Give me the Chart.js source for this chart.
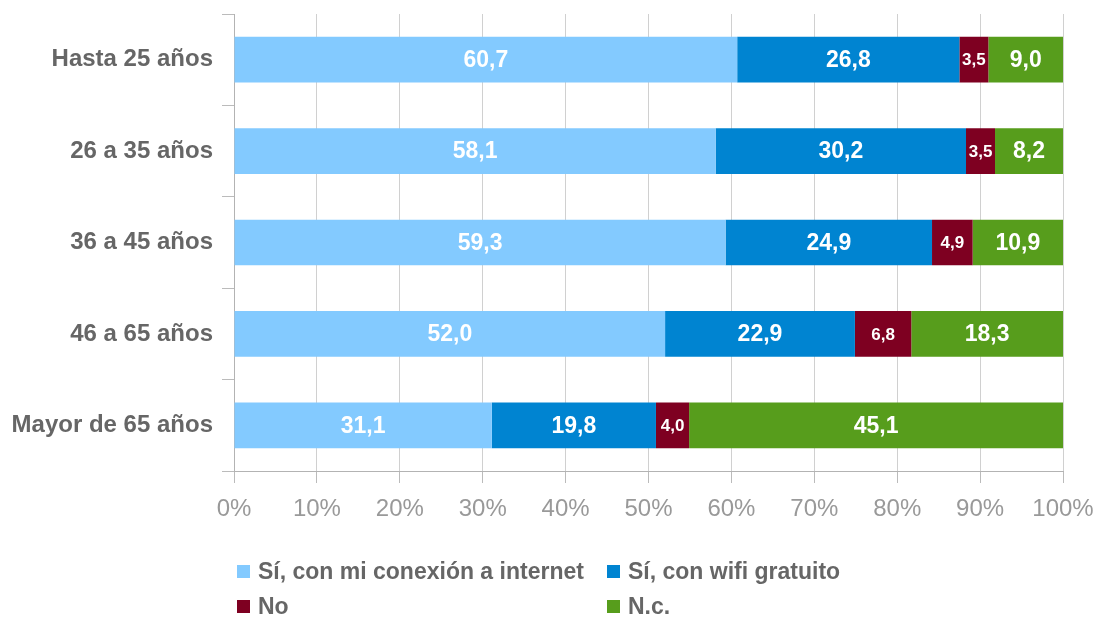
<!DOCTYPE html>
<html>
<head>
<meta charset="utf-8">
<script src="https://cdn.jsdelivr.net/npm/chart.js@4"></script>
<style>
  html, body { margin: 0; padding: 0; background: #fff; }
  #wrap { position: relative; width: 1099px; height: 618px; }
  #legend {
    position: absolute; left: 237px; top: 557px;
    display: grid; grid-template-columns: 370px 300px; row-gap: 7px;
    font-family: "Liberation Sans", Arial, sans-serif; font-weight: bold;
    font-size: 23px; color: #666;
  }
  #legend div { display: flex; align-items: center; height: 28px; white-space: nowrap; }
  #legend span.box { width: 13px; height: 13px; margin-right: 8px; display: inline-block; }
</style>
</head>
<body>
<div id="wrap">
  <canvas id="chart" width="1099" height="618"></canvas>
  <div id="legend"></div>
</div>
<script>
/* Data */
const ageGroups = ["Hasta 25 años", "26 a 35 años", "36 a 45 años", "46 a 65 años", "Mayor de 65 años"];
const seriesNames = ["Sí, con mi conexión a internet", "Sí, con wifi gratuito", "No", "N.c."];
const ownConnection = [60.7, 58.1, 59.3, 52.0, 31.1];
const freeWifi = [26.8, 30.2, 24.9, 22.9, 19.8];
const noValues = [3.5, 3.5, 4.9, 6.8, 4.0];
const ncValues = [9.0, 8.2, 10.9, 18.3, 45.1];
const colors = ["#83caff", "#0084d1", "#7e0021", "#579d1c"];

const seriesValues = [ownConnection, freeWifi, noValues, ncValues];

/* value labels inside the bars */
const barLabels = {
  id: "barLabels",
  afterDatasetsDraw(chart) {
    const ctx = chart.ctx;
    ctx.save();
    ctx.fillStyle = "#fff";
    ctx.textAlign = "center";
    ctx.textBaseline = "middle";
    chart.data.datasets.forEach((ds, i) => {
      chart.getDatasetMeta(i).data.forEach((bar, j) => {
        const v = ds.data[j];
        const size = v < 7 ? 17 : 23;
        ctx.font = "bold " + size + "px 'Liberation Sans', Arial, sans-serif";
        ctx.fillText(v.toFixed(1).replace(".", ","), (bar.x + bar.base) / 2, bar.y + 1);
      });
    });
    ctx.restore();
  },
};

const chart = new Chart(document.getElementById("chart"), {
  type: "bar",
  data: {
    labels: ageGroups,
    datasets: seriesValues.map((vals, i) => ({
      label: seriesNames[i],
      data: vals,
      backgroundColor: colors[i],
      borderWidth: 0,
      barPercentage: 0.5,
      categoryPercentage: 1,
    })),
  },
  options: {
    indexAxis: "y",
    responsive: false,
    animation: false,
    layout: { padding: { top: 14, right: 36, bottom: 88, left: 0 } },
    scales: {
      x: {
        stacked: true,
        min: 0,
        max: 100,
        afterFit: (s) => {
          s.height = 59;
          s.paddingLeft = 0;
          s.paddingRight = 0;
        },
        ticks: {
          stepSize: 10,
          callback: (v) => v + "%",
          color: "#999",
          padding: 12,
          font: { family: "'Liberation Sans', Arial, sans-serif", size: 24 },
        },
        grid: { color: "#d0d0d0", tickLength: 12, tickColor: "#bbb" },
        border: { color: "#b3b3b3" },
      },
      y: {
        stacked: true,
        afterFit: (s) => {
          s.width = 234;
          s.paddingTop = 0;
          s.paddingBottom = 0;
        },
        ticks: {
          color: "#666",
          padding: 9,
          font: { family: "'Liberation Sans', Arial, sans-serif", size: 24, weight: "bold" },
        },
        grid: { drawOnChartArea: false, tickLength: 12, color: "#bbb", offset: true },
        border: { color: "#b3b3b3" },
      },
    },
    plugins: {
      legend: { display: false },
      tooltip: { enabled: false },
    },
  },
  plugins: [barLabels],
});

/* legend */
const legend = document.getElementById("legend");
seriesNames.forEach((name, i) => {
  const item = document.createElement("div");
  item.innerHTML = '<span class="box" style="background:' + colors[i] + '"></span>' + name;
  legend.appendChild(item);
});
</script>
</body>
</html>
